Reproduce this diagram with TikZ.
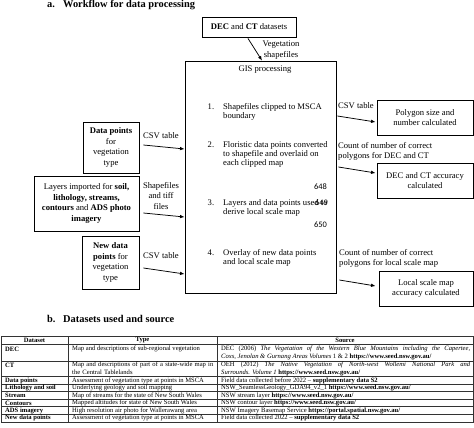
\documentclass[tikz,border=0pt]{standalone}
\usepackage{fontspec}
\setmainfont{Liberation Serif}
\newfontfamily\linenofont{Carlito}
\usetikzlibrary{arrows.meta,positioning,calc}

\begin{document}
\begin{tikzpicture}[
  x=1pt,y=-1pt,
  box/.style={draw,line width=0.9pt,align=center,inner sep=2pt,
              font=\fontsize{8.6}{10.6}\selectfont},
  lbl/.style={align=center,inner sep=1pt,font=\fontsize{8.6}{10.4}\selectfont},
  stepnum/.style={anchor=north west,inner sep=0pt,font=\fontsize{8.6}{9}\selectfont},
  steptext/.style={anchor=north west,inner sep=0pt,align=left,
                   font=\fontsize{8.6}{9}\selectfont},
  lineno/.style={anchor=east,inner sep=0pt,font=\linenofont\fontsize{8.4}{9}\selectfont},
  ttl/.style={anchor=west,inner sep=0pt,font=\bfseries\fontsize{10.4}{12}\selectfont},
  ar/.style={-{Latex[length=4.5pt,width=3.6pt]},line width=0.75pt},
  cell/.style={anchor=west,inner sep=0pt,font=\fontsize{6.6}{8}\selectfont},
  celltwo/.style={cell,anchor=north west,align=justify},
  bcell/.style={cell,font=\bfseries\fontsize{6.6}{8}\selectfont},
  head/.style={bcell,anchor=center},
  grid/.style={line width=0.45pt,draw=black!80}
]
\useasboundingbox (0,0) rectangle (474,428);

% a. workflow
\node[ttl] (ttla) at (47,5) {\makebox[16pt][l]{a.}Workflow for data processing};

\node[box,minimum width=94pt,minimum height=20pt] (dec) at (249,27)
  {\textbf{DEC} and \textbf{CT} datasets};
\node[box,minimum width=151pt,minimum height=232pt] (gis) at (260.5,177) {};
\node[lbl] (gistitle) at (265,70) {GIS processing};

\node[steptext] (step1) at (223,103.5) {Shapefiles clipped to MSCA\\boundary};
\node[stepnum] (num1) at (207.5,103.5) {1.};
\node[steptext] (step2) at (223,141.5) {Floristic data points converted\\to shapefile and overlaid on\\each clipped map};
\node[stepnum] (num2) at (207.5,141.5) {2.};
\node[steptext] (step3) at (223,199.5) {Layers and data points used to\\derive local scale map};
\node[stepnum] (num3) at (207.5,199.5) {3.};
\node[steptext] (step4) at (223,249.5) {Overlay of new data points\\and local scale map};
\node[stepnum] (num4) at (207.5,249.5) {4.};

\node[lineno] (ln648) at (327,187) {648};
\node[lineno] (ln649) at (328,203) {649};
\node[lineno] (ln650) at (327,225) {650};

% inputs on the left
\node[box,minimum width=56pt,minimum height=51pt] (datapts) at (111,147.5)
  {\textbf{Data points}\\for\\vegetation\\type};
\node[box,minimum width=105pt,minimum height=55pt] (layers) at (86.5,203.5)
  {Layers imported for \textbf{soil,}\\\textbf{lithology, streams,}\\\textbf{contours} and \textbf{ADS photo}\\\textbf{imagery}};
\node[box,minimum width=57pt,minimum height=53pt] (newpts) at (110.5,262.5)
  {\textbf{New data}\\\textbf{points} for\\vegetation\\type};

% outputs on the right
\node[box,minimum width=96pt,minimum height=35pt] (poly) at (425,117.5)
  {Polygon size and\\number calculated};
\node[box,minimum width=96pt,minimum height=35pt] (decacc) at (425,180.5)
  {DEC and CT accuracy\\calculated};
\node[box,minimum width=94pt,minimum height=35pt] (localacc) at (426,288.5)
  {Local scale map\\accuracy calculated};

% connectors
\draw[ar] ([xshift=-1pt,yshift=-1pt]dec.south) -- ([xshift=1.5pt]gis.north);
\node[lbl] (vegshp) at (281,50) {Vegetation\\shapefiles};

\draw[ar] ([xshift=4pt,yshift=2.5pt]datapts.east) -- ([yshift=28pt]gis.west);
\node[lbl] (csv1) at (161,136) {CSV table};
\draw[ar] ([xshift=4pt,yshift=-9.5pt]layers.east) -- ([yshift=-40pt]gis.west);
\node[lbl] (shptiff) at (161,196) {Shapefiles\\and tiff\\files};
\draw[ar] ([xshift=4pt,yshift=-5.5pt]newpts.east) -- ([yshift=-97pt]gis.west);
\node[lbl] (csv2) at (161,256) {CSV table};

\draw[ar] ([xshift=1pt,yshift=61pt]gis.east) -- ([xshift=-1pt,yshift=-4.5pt]poly.west);
\node[lbl,anchor=west] (csv3) at (337,106) {CSV table};
\draw[ar] ([xshift=2pt,yshift=10pt]gis.east) -- ([xshift=-1pt,yshift=7.5pt]decacc.west);
\node[lbl,anchor=west,align=left] (cntdec) at (337,151.5)
  {Count of number of correct\\polygons for DEC and CT};
\draw[ar] ([xshift=3pt,yshift=-103pt]gis.east) -- ([xshift=-3pt,yshift=2.5pt]localacc.west);
\node[lbl,anchor=west,align=left] (cntlocal) at (338,258.5)
  {Count of number of correct\\polygons for local scale map};

% b. datasets table
\node[ttl] (ttlb) at (47,319) {\makebox[16pt][l]{b.}Datasets used and source};

\draw[grid] (1,336) rectangle (473,422);
\foreach \y in {344.5,361,376.5,384,391.5,399,406.5,414}
  \draw[grid] (1,\y) -- (473,\y);
\foreach \x in {68,217}
  \draw[grid] (\x,336) -- (\x,422);

\node[head] (hdata) at (34.5,340.5) {Dataset};
\node[head] (htype) at (142.5,340.5) {Type};
\node[head] (hsrc) at (345,340.5) {Source};

\node[bcell] (rdec) at (5,349) {DEC};
\node[cell] (tdec) at (72,349) {Map and descriptions of sub-regional vegetation};
\node[celltwo,text width=249pt] (sdec) at (221,345.5)
  {DEC (2006) \textit{The Vegetation of the Western Blue Mountains including the Capertee,}\linebreak
   \textit{Coxs, Jenolan \& Gurnang Areas Volumes} 1 \& 2 \textbf{https://www.seed.nsw.gov.au/}};

\node[bcell] (rct) at (5,365.5) {CT};
\node[celltwo,text width=143pt,align=left] (tct) at (72,362)
  {Map and descriptions of part of a state-wide map in\\the Central Tablelands};
\node[celltwo,text width=249pt] (sct) at (221,362)
  {OEH (2012) \textit{The Native Vegetation of North-west Wollemi National Park and}\linebreak
   \textit{Surrounds. Volume 1} \textbf{https://www.seed.nsw.gov.au/}};

\node[bcell] (rpts) at (5,380.5) {Data points};
\node[cell] (tpts) at (72,380.5) {Assessment of vegetation type at points in MSCA};
\node[cell] (spts) at (221,380.5) {Field data collected before 2022 -- \textbf{supplementary data S2}};

\node[bcell] (rlith) at (5,388) {Lithology and soil};
\node[cell] (tlith) at (72,388) {Underlying geology and soil mapping};
\node[cell] (slith) at (221,388) {NSW\_SeamlessGeology\_GDA94\_v2\_1 \textbf{https://www.seed.nsw.gov.au/}};

\node[bcell] (rstr) at (5,395.5) {Stream};
\node[cell] (tstr) at (72,395.5) {Map of streams for the state of New South Wales};
\node[cell] (sstr) at (221,395.5) {NSW stream layer \textbf{https://www.seed.nsw.gov.au/}};

\node[bcell] (rcon) at (5,403) {Contours};
\node[cell] (tcon) at (72,403) {Mapped altitudes for state of New South Wales};
\node[cell] (scon) at (221,403) {NSW contour layer \textbf{https://www.seed.nsw.gov.au/}};

\node[bcell] (rads) at (5,410.5) {ADS imagery};
\node[cell] (tads) at (72,410.5) {High resolution air photo for Wallerawang area};
\node[cell] (sads) at (221,410.5) {NSW Imagery Basemap Service \textbf{https://portal.spatial.nsw.gov.au/}};

\node[bcell] (rnew) at (5,418) {New data points};
\node[cell] (tnew) at (72,418) {Assessment of vegetation type at points in MSCA};
\node[cell] (snew) at (221,418) {Field data collected 2022 -- \textbf{supplementary data S2}};
\end{tikzpicture}
\end{document}
